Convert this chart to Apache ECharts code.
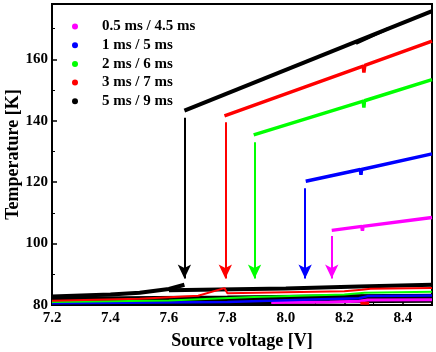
<!DOCTYPE html>
<html>
<head>
<meta charset="utf-8">
<script src="https://cdn.jsdelivr.net/npm/echarts@6/dist/echarts.min.js"></script>
<style>
    html, body { margin: 0; padding: 0; background: #fff; }
    #app { width: 436px; height: 352px; }
</style>
</head>
<body>
<div id="app"></div>
<script>
// 图例名称与颜色
const names = ['0.5 ms / 4.5 ms', '1 ms / 5 ms', '2 ms / 6 ms', '3 ms / 7 ms', '5 ms / 9 ms'];
const colors = ['#ff00ff', '#0000ff', '#00ff00', '#ff0000', '#000000'];

// 高温支路 [电压, 温度]
const upperMagenta = [[8.157, 104.3], [8.26, 105.6], [8.262, 104.2], [8.264, 105.6], [8.5, 108.5]];
const upperBlue = [[8.068, 120.3], [8.255, 124.1], [8.257, 122.4], [8.259, 124.1], [8.5, 129.2]];
const upperGreen = [[7.89, 135.4], [8.265, 146.4], [8.267, 144.3], [8.269, 146.5], [8.5, 153.4]];
const upperRed = [[7.79, 141.6], [8.25, 157.3], [8.265, 157.8], [8.267, 155.7], [8.27, 158.0], [8.5, 165.9]];
const upperBlack = [[7.653, 143.3], [8.5, 175.7]];
const upperBlack2 = [[8.24, 165.2], [8.35, 170.0]];

// 低温支路
const lowerMagenta = [[7.95, 80.8], [8.15, 81.0], [8.25, 81.2], [8.28, 81.6], [8.5, 81.7]];
const lowerBlue = [[7.2, 80.6], [7.8, 81.0], [8.06, 81.7], [8.25, 82.2], [8.28, 82.9], [8.5, 83.1]];
const lowerGreen = [[7.2, 81.0], [7.6, 81.5], [7.89, 82.6], [8.2, 83.4], [8.27, 84.0], [8.5, 84.3]];
const lowerRed = [[7.2, 81.4], [7.5, 82.0], [7.7, 83.0], [7.79, 85.5], [7.8, 83.8], [8.2, 84.5], [8.26, 85.0], [8.29, 85.3], [8.5, 85.5]];
const lowerBlack = [[7.2, 82.8], [7.4, 83.4], [7.5, 84.0], [7.6, 85.2], [7.653, 86.6]];
const lowerBlack2 = [[7.6, 84.8], [8.0, 85.4], [8.25, 86.0], [8.5, 86.6]];
const lowerBlack3 = [[7.2, 81.2], [7.8, 81.6], [8.2, 82.0], [8.5, 82.2]];
const redBlob = [[8.255, 80.6], [8.285, 80.6]];

// 跳变箭头 [电压, 起点温度, 终点温度]
const arrows = [
    [8.157, 102.5, 88.6],
    [8.066, 118.0, 88.6],
    [7.893, 133.0, 88.6],
    [7.793, 139.5, 88.6],
    [7.653, 141.0, 88.6]
];

// 坐标轴刻度
const xTicks = [7.2, 7.4, 7.6, 7.8, 8.0, 8.2, 8.4];
const yTicks = [80, 100, 120, 140, 160];

const serif = 'Liberation Serif';

function lineSeries(name, color, data, width) {
    return {
        name: name,
        type: 'line',
        data: data,
        showSymbol: false,
        symbol: 'circle',
        itemStyle: { color: color },
        lineStyle: { color: color, width: width },
        z: 3
    };
}

function arrowSeries(name, color, a) {
    return {
        name: name,
        type: 'line',
        data: [],
        itemStyle: { color: color },
        markLine: {
            silent: true,
            symbol: ['none', 'arrow'],
            symbolSize: [10, 14],
            label: { show: false },
            lineStyle: { color: color, width: 2, type: 'solid' },
            data: [[{ coord: [a[0], a[1]] }, { coord: [a[0], a[2]] }]]
        },
        z: 2
    };
}

const series = [];
// 低温带
series.push(lineSeries(names[4], colors[4], lowerBlack3, 9));
series.push(lineSeries(names[4], colors[4], lowerBlack2, 4));
series.push(lineSeries(names[0], colors[0], lowerMagenta, 3));
series.push(lineSeries(names[1], colors[1], lowerBlue, 2.5));
series.push(lineSeries(names[2], colors[2], lowerGreen, 2));
series.push(lineSeries(names[3], colors[3], lowerRed, 2));
series.push(lineSeries(names[3], colors[3], redBlob, 3));
series.push(lineSeries(names[4], colors[4], lowerBlack, 4));
// 高温支路
series.push(lineSeries(names[0], colors[0], upperMagenta, 3.5));
series.push(lineSeries(names[1], colors[1], upperBlue, 3.5));
series.push(lineSeries(names[2], colors[2], upperGreen, 3.5));
series.push(lineSeries(names[3], colors[3], upperRed, 3.5));
series.push(lineSeries(names[4], colors[4], upperBlack, 4));
series.push(lineSeries(names[4], colors[4], upperBlack2, 3));
// 箭头
for (let i = 0; i < arrows.length; i++) {
    series.push(arrowSeries(names[i], colors[i], arrows[i]));
}

const myChart = echarts.init(document.getElementById('app'), null, { renderer: 'canvas' });
myChart.setOption({
    animation: false,
    backgroundColor: '#fff',
    grid: {
        left: 52, right: 4, top: 4, bottom: 47,
        outerBoundsMode: 'none',
        show: true, borderColor: '#000', borderWidth: 2
    },
    legend: {
        data: names.map(function(n, i) { return { name: n, icon: 'circle', itemStyle: { color: colors[i] } }; }),
        orient: 'vertical',
        left: 67,
        top: 14,
        itemWidth: 6,
        itemHeight: 6,
        itemGap: 3.7,
        selectedMode: false,
        textStyle: {
            fontFamily: serif, fontWeight: 'bold', fontSize: 15, color: '#000',
            lineHeight: 15, padding: [0, 0, 0, 19]
        }
    },
    xAxis: {
        type: 'value',
        min: 7.2, max: 8.5, interval: 0.2,
        name: 'Source voltage [V]',
        nameLocation: 'middle',
        nameGap: 27,
        nameMoveOverlap: false,
        nameTextStyle: { fontFamily: serif, fontWeight: 'bold', fontSize: 18, color: '#000' },
        axisLine: { lineStyle: { color: '#000', width: 2 } },
        axisTick: { inside: true, length: 5, lineStyle: { color: '#000', width: 1.5 } },
        minorTick: { show: true, splitNumber: 2, length: 3, lineStyle: { color: '#000' } },
        splitLine: { show: false },
        axisLabel: {
            fontFamily: serif, fontWeight: 'bold', fontSize: 15, color: '#000', margin: 6,
            formatter: function(v) {
                return xTicks.some(function(t) { return Math.abs(t - v) < 1e-6; }) ? v.toFixed(1) : '';
            }
        }
    },
    yAxis: {
        type: 'value',
        min: 80, max: 178, interval: 20,
        name: 'Temperature [K]',
        nameLocation: 'middle',
        nameGap: 30,
        nameMoveOverlap: false,
        nameTextStyle: { fontFamily: serif, fontWeight: 'bold', fontSize: 18, color: '#000' },
        axisLine: { lineStyle: { color: '#000', width: 2 } },
        axisTick: { inside: true, length: 5, lineStyle: { color: '#000', width: 1.5 } },
        minorTick: { show: true, splitNumber: 2, length: 3, lineStyle: { color: '#000' } },
        splitLine: { show: false },
        axisLabel: {
            fontFamily: serif, fontWeight: 'bold', fontSize: 15, color: '#000', margin: 4,
            formatter: function(v) {
                return yTicks.indexOf(v) >= 0 ? String(v) : '';
            }
        }
    },
    series: series
});
</script>
</body>
</html>
